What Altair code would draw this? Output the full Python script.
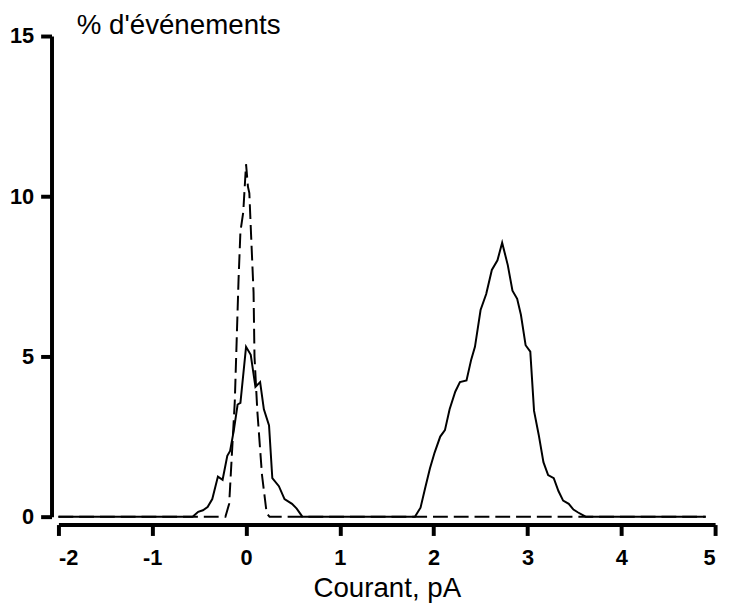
import altair as alt
import pandas as pd

# Solid trace (current histogram, % of events)
solid_x = [-2.0, -0.57, -0.51, -0.46, -0.41, -0.36, -0.30, -0.25, -0.20, -0.17,
           -0.13, -0.09, -0.06, 0.0, 0.05, 0.10, 0.15, 0.19, 0.245, 0.28,
           0.35, 0.41, 0.49, 0.54, 0.60, 1.80, 1.86, 1.91, 1.96, 2.01,
           2.07, 2.12, 2.17, 2.23, 2.28, 2.35, 2.40, 2.44, 2.50, 2.56,
           2.62, 2.68, 2.73, 2.79, 2.84, 2.89, 2.93, 2.98, 3.03, 3.07,
           3.12, 3.17, 3.22, 3.28, 3.33, 3.38, 3.44, 3.49, 3.54, 3.62, 4.9]
solid_y = [0, 0, 0.15, 0.2, 0.3, 0.55, 1.25, 1.15, 1.9, 2.05,
           2.7, 3.5, 3.55, 5.3, 5.05, 4.05, 4.2, 3.35, 2.85, 1.2,
           0.95, 0.55, 0.4, 0.25, 0, 0, 0.28, 0.9, 1.5, 2.0,
           2.5, 2.7, 3.35, 3.9, 4.2, 4.25, 4.9, 5.3, 6.45, 6.95,
           7.7, 8.0, 8.55, 7.85, 7.05, 6.8, 6.3, 5.35, 5.15, 3.3,
           2.55, 1.7, 1.3, 1.2, 0.8, 0.5, 0.4, 0.22, 0.13, 0, 0]

# Dashed trace
dashed_x = [-2.0, -0.22, -0.18, -0.12, -0.10, -0.08, -0.06, -0.03, 0.0, 0.02,
            0.035, 0.055, 0.08, 0.09, 0.12, 0.17, 0.22, 0.25, 4.9]
dashed_y = [0, 0, 0.4, 3.6, 5.5, 7.4, 8.9, 9.5, 11.0, 10.3,
            10.1, 8.7, 7.0, 5.0, 3.3, 1.3, 0.1, 0, 0]

x_ticks = [-2, -1, 0, 1, 2, 3, 4, 5]
y_ticks = [0, 5, 10, 15]

solid_df = pd.DataFrame({"x": solid_x, "y": solid_y, "i": range(len(solid_x))})
dashed_df = pd.DataFrame({"x": dashed_x, "y": dashed_y, "i": range(len(dashed_x))})

FONT = "Liberation Sans"
LABEL = "toString(datum.value)"
LABEL_SIZE = 22

x_enc = alt.X("x:Q", scale=alt.Scale(domain=[-2, 5], nice=False, zero=False),
              axis=alt.Axis(values=x_ticks, title="Courant, pA", offset=8,
                            labelPadding=12, titlePadding=7, labelExpr=LABEL,
                            labelFontSize=LABEL_SIZE, labelFont=FONT,
                            labelFontWeight="bold"))
y_enc = alt.Y("y:Q", scale=alt.Scale(domain=[0, 15], nice=False, zero=False),
              axis=alt.Axis(values=y_ticks, title="% d'événements", offset=7,
                            labelPadding=7, titleAngle=0, titleAlign="left",
                            titleBaseline="alphabetic", titleX=25, titleY=-3,
                            labelExpr=LABEL, labelFontSize=LABEL_SIZE,
                            labelFont=FONT, labelFontWeight="bold"))

solid = alt.Chart(solid_df).mark_line(color="black", strokeWidth=2).encode(
    x=x_enc, y=y_enc, order="i:Q")
dashed = alt.Chart(dashed_df).mark_line(color="black", strokeWidth=2,
                                        strokeDash=[15, 6]).encode(
    x=x_enc, y=y_enc, order="i:Q")

chart = (solid + dashed).properties(
    width=664, height=486,
    autosize=alt.AutoSizeParams(type="none"),
    padding={"left": 51, "top": 25, "right": 9, "bottom": 87},
).configure_view(stroke=None).configure_axis(
    grid=False,
    domainColor="black", domainWidth=4,
    tickColor="black", tickWidth=4, tickSize=11,
    labelColor="black",
    titleFont=FONT, titleFontWeight="normal", titleFontSize=28, titleColor="black",
)

chart.save("out.html", embed_options={"renderer": "svg", "actions": False})
